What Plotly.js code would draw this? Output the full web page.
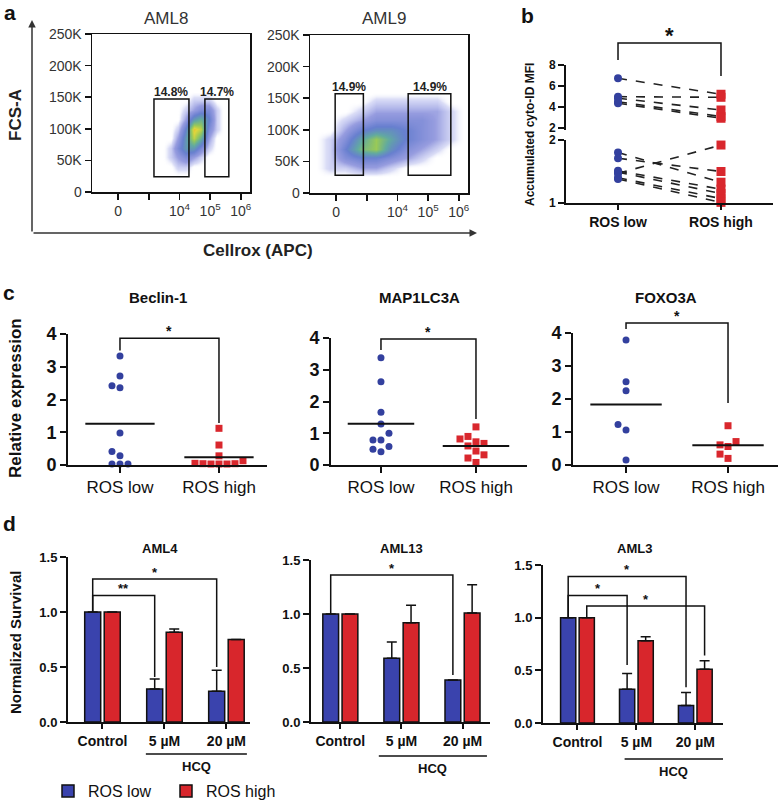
<!DOCTYPE html>
<html>
<head>
<meta charset="utf-8">
<script src="https://cdn.plot.ly/plotly-3.0.1.min.js"></script>
<style>
  html, body { margin: 0; padding: 0; background: #fff; }
  #plot { width: 783px; height: 801px; }
</style>
</head>
<body>
<div id="plot"></div>
<script>
// ---------- data ----------
// a: flow cytometry, relative event density (estimated) on a coarse grid
let flowTickText = ['0', '', '10<sup>4</sup>', '10<sup>5</sup>', '10<sup>6</sup>'];
let fscTickVals = [0, 50000, 100000, 150000, 200000, 250000];
let fscTickText = ['0', '50K', '100K', '150K', '200K', '250K'];
let densityY = [40000, 55000, 70000, 85000, 100000, 115000, 130000, 145000];

let aml8X = [1.7, 1.95, 2.2, 2.45, 2.7, 2.95, 3.2];
let aml8Density = [
  [0, 1, 1, 0, 0, 0, 0],
  [1, 2, 3, 2, 1, 0, 0],
  [1, 3, 5, 5, 3, 1, 0],
  [0, 2, 5, 8, 6, 2, 0],
  [0, 1, 4, 9, 8, 3, 1],
  [0, 0, 2, 5, 6, 4, 1],
  [0, 0, 1, 2, 3, 3, 1],
  [0, 0, 0, 1, 1, 1, 0]
];
let aml9X = [-0.2, 0.3, 0.8, 1.3, 1.8, 2.3, 2.8, 3.3, 3.7];
let aml9Density = [
  [1, 1, 2, 2, 1, 0, 0, 0, 0],
  [1, 3, 4, 4, 3, 2, 1, 0, 0],
  [1, 4, 7, 8, 5, 3, 2, 1, 0],
  [1, 3, 6, 8, 6, 4, 3, 2, 1],
  [0, 2, 4, 5, 5, 4, 3, 2, 1],
  [0, 1, 2, 3, 3, 3, 3, 2, 1],
  [0, 0, 1, 2, 2, 2, 2, 2, 1],
  [0, 0, 0, 1, 1, 1, 1, 1, 0]
];
let aml8Gates = ['14.8%', '14.7%'];
let aml9Gates = ['14.9%', '14.9%'];

// b: accumulated cyto-ID MFI, paired samples
let rosTicks = ['ROS low', 'ROS high'];
let cytoLowUpper = [6.73, 4.98, 4.83, 4.50, 4.35];
let cytoHighUpper = [5.21, 4.92, 3.71, 3.08, 2.92];
let cytoLowLower = [1.80, 1.71, 1.47, 1.51, 1.49, 1.40, 1.38];
let cytoHighLower = [1.33, 1.50, 1.92, 1.22, 1.15, 1.07, 1.01];

// c: relative expression
let beclinLow = [3.33, 2.72, 2.42, 2.36, 0.98, 0.41, 0.28, 0.03, 0.03, 0.03];
let beclinHigh = [1.12, 0.61, 0.28, 0.13, 0.04, 0.03, 0.03, 0.03, 0.04, 0.05];
let mapLow = [3.38, 2.62, 1.66, 1.29, 1.00, 0.79, 0.79, 0.58, 0.50, 0.42];
let mapHigh = [1.20, 0.90, 0.82, 0.73, 0.68, 0.60, 0.44, 0.32, 0.22, 0.08];
let foxoLow = [3.79, 2.52, 2.25, 1.23, 1.06, 0.15];
let foxoHigh = [1.19, 0.71, 0.61, 0.56, 0.33, 0.20];

// d: normalized survival
let groups = ['Control', '5 µM', '20 µM'];
let aml4Low = [1.0, 0.30, 0.28];
let aml4LowErr = [null, 0.09, 0.19];
let aml4High = [1.0, 0.815, 0.75];
let aml4HighErr = [null, 0.03, null];
let aml13Low = [1.0, 0.59, 0.39];
let aml13LowErr = [null, 0.15, null];
let aml13High = [1.0, 0.92, 1.01];
let aml13HighErr = [null, 0.16, 0.26];
let aml3Low = [1.0, 0.32, 0.165];
let aml3LowErr = [null, 0.15, 0.125];
let aml3High = [1.0, 0.78, 0.51];
let aml3HighErr = [null, 0.04, 0.08];

// ---------- helpers ----------
const W = 783, H = 801;
const F = 'Arial, "Liberation Sans", sans-serif';
const BLUE = '#33409e';
const RED = '#d9272d';
const BAR_BLUE = '#3a43ad';
const BAR_RED = '#d8262c';
const INK = '#111';

function dx(a, b) { return [a / W, b / W]; }
function dy(top, bottom) { return [1 - bottom / H, 1 - top / H]; }
function px(x) { return x / W; }
function py(y) { return 1 - y / H; }

function text(x, y, s, size, opts) {
  return Object.assign({
    x: px(x), y: py(y), xref: 'paper', yref: 'paper', text: s, showarrow: false,
    xanchor: 'center', yanchor: 'middle',
    font: { family: F, size: size, color: INK }
  }, opts || {});
}
function bold(size, color) { return { family: F, size: size, color: color || INK, weight: 'bold' }; }

// surround a density grid with a ring of zeros so the smoothed cloud fades out
function padGrid(xs, ys, z) {
  let sx = xs[1] - xs[0], sy = ys[1] - ys[0];
  let nx = [xs[0] - sx].concat(xs, [xs[xs.length - 1] + sx]);
  let ny = [ys[0] - sy].concat(ys, [ys[ys.length - 1] + sy]);
  let blank = nx.map(() => 0);
  let nz = [blank].concat(z.map(r => [0].concat(r, [0])), [blank]);
  return { x: nx, y: ny, z: nz };
}

// bracket: x in data units, y converted into fraction of the axis domain
function bracket(xa, ya, range, x0, x1, yTop, yL, yR) {
  let f = v => (v - range[0]) / (range[1] - range[0]);
  return {
    type: 'path', xref: xa, yref: ya + ' domain',
    path: `M${x0},${f(yL)} L${x0},${f(yTop)} L${x1},${f(yTop)} L${x1},${f(yR)}`,
    line: { color: INK, width: 1.5 }
  };
}
function star(xa, ya, range, x, yTop, s, size) {
  return {
    x: x, y: (yTop - range[0]) / (range[1] - range[0]), xref: xa, yref: ya + ' domain',
    text: s, showarrow: false, xanchor: 'center', yanchor: 'middle', yshift: 7,
    font: bold(size)
  };
}

// simple beeswarm: spread equal-ish values sideways
function swarm(vals, pxPerY, pxPerX, d) {
  let order = vals.map((v, i) => i).sort((a, b) => vals[a] - vals[b]);
  let placed = [];
  let off = vals.map(() => 0);
  let steps = [0, -1, 1, -2, 2, -3, 3, -4, 4];
  order.forEach(i => {
    for (let k of steps) {
      let xp = k * d;
      let hit = placed.some(p => (p.x - xp) ** 2 + ((p.v - vals[i]) * pxPerY) ** 2 < d * d * 0.95);
      if (!hit) { placed.push({ x: xp, v: vals[i] }); off[i] = xp / pxPerX; break; }
    }
  });
  return off;
}

let traces = [];
let shapes = [];
let annotations = [];
let layout = {
  width: W, height: H,
  margin: { l: 0, r: 0, t: 0, b: 0, autoexpand: false },
  paper_bgcolor: '#fff', plot_bgcolor: 'rgba(0,0,0,0)',
  font: { family: F, color: INK },
  showlegend: true,
  barmode: 'group', bargap: 0.37, bargroupgap: 0.18
};

// ---------- a: flow plots ----------
let flowScale = [
  [0, 'rgba(255,255,255,0)'],
  [0.06, 'rgba(110,120,220,0.25)'],
  [0.18, 'rgba(75,85,200,0.58)'],
  [0.35, 'rgba(65,95,195,0.8)'],
  [0.52, 'rgba(80,160,150,0.9)'],
  [0.66, 'rgb(150,200,90)'],
  [0.78, 'rgb(225,215,60)'],
  [0.9, 'rgb(240,150,40)'],
  [1, 'rgb(225,50,30)']
];
let flows = [
  { xa: 'x', ya: 'y', x: aml8X, z: aml8Density, zmax: 11, left: 92, right: 250, top: 34, bottom: 192,
    title: 'AML8', gates: aml8Gates, gateX: [[1.17, 2.31], [2.83, 3.61]], gateY: [24000, 147000] },
  { xa: 'x2', ya: 'y2', x: aml9X, z: aml9Density, zmax: 12, left: 310, right: 468, top: 35, bottom: 193,
    title: 'AML9', gates: aml9Gates, gateX: [[-0.03, 0.89], [2.35, 3.74]], gateY: [28000, 157000] }
];
flows.forEach((p, k) => {
  let n = k === 0 ? '' : '2';
  let g = padGrid(p.x, densityY, p.z);
  traces.push({
    type: 'heatmap', x: g.x, y: g.y, z: g.z, zmin: 0, zmax: p.zmax, zsmooth: 'best',
    colorscale: flowScale, showscale: false, hoverinfo: 'skip', showlegend: false,
    xaxis: p.xa, yaxis: p.ya
  });
  layout['xaxis' + n] = {
    domain: dx(p.left, p.right), anchor: p.ya, range: [-0.85, 4.3],
    showgrid: false, zeroline: false, showline: true, mirror: true, linecolor: INK, linewidth: 1.5,
    ticks: 'outside', ticklen: 6, tickwidth: 1.5, tickcolor: INK,
    tickvals: [0, 1, 2, 3, 4], ticktext: flowTickText, tickfont: { family: F, size: 14, color: '#333' }
  };
  layout['yaxis' + n] = {
    domain: dy(p.top, p.bottom), anchor: p.xa, range: [0, 250000],
    showgrid: false, zeroline: false, showline: true, mirror: true, linecolor: INK, linewidth: 1.5,
    ticks: 'outside', ticklen: 6, tickwidth: 1.5, tickcolor: INK,
    tickvals: fscTickVals, ticktext: fscTickText, tickfont: { family: F, size: 14, color: '#333' }
  };
  p.gateX.forEach((gx, i) => {
    shapes.push({ type: 'rect', xref: p.xa, yref: p.ya, x0: gx[0], x1: gx[1], y0: p.gateY[0], y1: p.gateY[1],
      line: { color: INK, width: 1.5 } });
    annotations.push({ x: (gx[0] + gx[1]) / 2, y: p.gateY[1], xref: p.xa, yref: p.ya,
      xanchor: 'center', yanchor: 'bottom', yshift: -2,
      text: p.gates[i], showarrow: false, font: bold(12, '#222') });
  });
  annotations.push(text((p.left + p.right) / 2 - 5, 18, p.title, 17, { font: { family: F, size: 17, color: '#333' } }));
});
annotations.push(text(10, 12, 'a', 21, { font: bold(21) }));
annotations.push(text(15, 115, 'FCS-A', 17, { textangle: -90, font: bold(17, '#222') }));
annotations.push(text(258, 250, 'Cellrox (APC)', 17, { font: bold(17, '#222') }));
// outer axis arrows
annotations.push({ x: px(32), y: py(20), xref: 'paper', yref: 'paper', ax: 0, ay: 213, text: '',
  showarrow: true, arrowhead: 2, arrowsize: 1, arrowwidth: 1.5, arrowcolor: '#333' });
annotations.push({ x: px(477), y: py(233), xref: 'paper', yref: 'paper', ax: -445, ay: 0, text: '',
  showarrow: true, arrowhead: 2, arrowsize: 1, arrowwidth: 1.5, arrowcolor: '#333' });

// ---------- b: paired cyto-ID ----------
function pairLines(lows, highs) {
  let x = [], y = [];
  lows.forEach((v, i) => { x.push(0, 1, null); y.push(v, highs[i], null); });
  return { x: x, y: y };
}
[[cytoLowUpper, cytoHighUpper, 'y4'], [cytoLowLower, cytoHighLower, 'y3']].forEach(s => {
  let l = pairLines(s[0], s[1]);
  traces.push({ type: 'scatter', mode: 'lines', x: l.x, y: l.y, xaxis: 'x3', yaxis: s[2],
    line: { color: '#222', width: 1.6, dash: 'dash' }, showlegend: false, hoverinfo: 'skip' });
  traces.push({ type: 'scatter', mode: 'markers', x: s[0].map(() => 0), y: s[0], xaxis: 'x3', yaxis: s[2],
    marker: { color: BLUE, size: 8, symbol: 'circle' }, cliponaxis: false, showlegend: false });
  traces.push({ type: 'scatter', mode: 'markers', x: s[1].map(() => 1), y: s[1], xaxis: 'x3', yaxis: s[2],
    marker: { color: RED, size: 9, symbol: 'square' }, cliponaxis: false, showlegend: false });
});
let bAxisY = {
  anchor: 'x3', showgrid: false, zeroline: false, showline: true, linecolor: INK, linewidth: 2,
  ticks: 'outside', ticklen: 6, tickwidth: 2, tickcolor: INK,
  tickfont: bold(12)
};
layout.xaxis3 = {
  domain: dx(566, 773), anchor: 'y3', range: [-0.505, 1.505],
  showgrid: false, zeroline: false, showline: true, linecolor: INK, linewidth: 2,
  ticks: 'outside', ticklen: 5, tickwidth: 2, tickcolor: INK,
  tickvals: [0, 1], ticktext: rosTicks, tickfont: bold(14)
};
layout.yaxis3 = Object.assign({ domain: dy(140, 203), range: [1, 2], tickvals: [1, 2] }, bAxisY);
layout.yaxis4 = Object.assign({ domain: dy(65, 130), range: [1.8, 8], tickvals: [2, 4, 6, 8] }, bAxisY);
shapes.push(bracket('x3', 'y4', [1.8, 8], 0, 1, 10.1, 8.48, 6.95));
annotations.push(star('x3', 'y4', [1.8, 8], 0.5, 10.1, '*', 22));
annotations.push(text(527, 15, 'b', 21, { font: bold(21) }));
annotations.push(text(530, 135, 'Accumulated cyto-ID MFI', 12, { textangle: -90, font: bold(12) }));

// ---------- c: dot plots ----------
let cPanels = [
  { title: 'Beclin-1', low: beclinLow, high: beclinHigh, left: 68, right: 267, top: 334, bottom: 465,
    xr: [-0.525, 1.485], br: [3.87, 3.5, 1.28] },
  { title: 'MAP1LC3A', low: mapLow, high: mapHigh, left: 331, right: 527, top: 338, bottom: 465,
    xr: [-0.526, 1.537], br: [3.97, 3.62, 1.45] },
  { title: 'FOXO3A', low: foxoLow, high: foxoHigh, left: 573, right: 778, top: 333, bottom: 465,
    xr: [-0.52, 1.49], br: [4.3, 4.12, 1.88] }
];
cPanels.forEach((p, k) => {
  let xa = 'x' + (4 + k), ya = 'y' + (5 + k);
  let pxY = (p.bottom - p.top) / 4;
  let pxX = (p.right - p.left) / (p.xr[1] - p.xr[0]);
  [[p.low, 0, BLUE, 'circle'], [p.high, 1, RED, 'square']].forEach(s => {
    let off = swarm(s[0], pxY, pxX, 8);
    traces.push({ type: 'scatter', mode: 'markers', x: s[0].map((v, i) => s[1] + off[i]), y: s[0],
      xaxis: xa, yaxis: ya, marker: { color: s[2], size: 7, symbol: s[3] }, cliponaxis: false, showlegend: false });
    let mean = s[0].reduce((a, b) => a + b, 0) / s[0].length;
    traces.push({ type: 'scatter', mode: 'lines', x: [s[1] - 0.35, s[1] + 0.35], y: [mean, mean],
      xaxis: xa, yaxis: ya, line: { color: INK, width: 2 }, showlegend: false, hoverinfo: 'skip' });
  });
  layout['xaxis' + (4 + k)] = {
    domain: dx(p.left, p.right), anchor: ya, range: p.xr,
    showgrid: false, zeroline: false, showline: true, linecolor: INK, linewidth: 2,
    ticks: 'outside', ticklen: 6, tickwidth: 2, tickcolor: INK,
    tickvals: [0, 1], ticktext: rosTicks, tickfont: { family: F, size: 17, color: INK }
  };
  layout['yaxis' + (5 + k)] = {
    domain: dy(p.top, p.bottom), anchor: xa, range: [0, 4], tickvals: [0, 1, 2, 3, 4],
    showgrid: false, zeroline: false, showline: true, linecolor: INK, linewidth: 2,
    ticks: 'outside', ticklen: 6, tickwidth: 2, tickcolor: INK,
    tickfont: bold(18)
  };
  shapes.push(bracket(xa, ya, [0, 4], 0, 1, p.br[0], p.br[1], p.br[2]));
  annotations.push(star(xa, ya, [0, 4], 0.5, p.br[0], '*', 14));
  annotations.push(text((p.left + p.right) / 2 - 10, 297, p.title, 15, { font: bold(15) }));
});
annotations.push(text(9, 292, 'c', 21, { font: bold(21) }));
annotations.push(text(15, 398, 'Relative expression', 17, { textangle: -90, font: bold(17) }));

// ---------- d: bar charts ----------
let dPanels = [
  { title: 'AML4', low: aml4Low, lowErr: aml4LowErr, high: aml4High, highErr: aml4HighErr,
    left: 68, right: 250, top: 557, bottom: 722, xr: [-0.556, 2.38], hcq: [0.7, 2.33], hcqY: 754,
    br: [[0, 'l', 2, 'l', 1.30, 1.0, 0.50, '*'], [0, 'l', 1, 'l', 1.15, 1.0, 0.41, '**']] },
  { title: 'AML13', low: aml13Low, lowErr: aml13LowErr, high: aml13High, highErr: aml13HighErr,
    left: 311, right: 490, top: 560, bottom: 722, xr: [-0.48, 2.45], hcq: [0.63, 2.4], hcqY: 756,
    br: [[0, 'l', 2, 'l', 1.36, 1.0, 0.435, '*']] },
  { title: 'AML3', low: aml3Low, lowErr: aml3LowErr, high: aml3High, highErr: aml3HighErr,
    left: 543, right: 723, top: 565, bottom: 723, xr: [-0.585, 2.47], hcq: [0.8, 2.47], hcqY: 759,
    br: [[0, 'l', 2, 'l', 1.39, 1.0, 0.34, '*'], [0, 'l', 1, 'l', 1.21, 1.0, 0.55, '*'], [0, 'h', 2, 'h', 1.11, 1.0, 0.64, '*']] }
];
let half = (1 - layout.bargap) / 4;
let nan = a => a.map(v => (v == null ? NaN : v));
dPanels.forEach((p, k) => {
  let xa = 'x' + (7 + k), ya = 'y' + (8 + k);
  [[p.low, p.lowErr, BAR_BLUE, 'ROS low'], [p.high, p.highErr, BAR_RED, 'ROS high']].forEach(s => {
    traces.push({
      type: 'bar', x: groups, y: s[0], name: s[3], xaxis: xa, yaxis: ya, showlegend: k === 0,
      marker: { color: s[2], line: { color: INK, width: 1.5 } },
      error_y: { type: 'data', symmetric: false, array: nan(s[1]), arrayminus: s[1].map(() => 0),
        color: INK, thickness: 1.5, width: 5 }
    });
  });
  layout['xaxis' + (7 + k)] = {
    domain: dx(p.left, p.right), anchor: ya, type: 'category', range: p.xr,
    showgrid: false, zeroline: false, showline: true, linecolor: INK, linewidth: 2,
    ticks: 'outside', ticklen: 5, tickwidth: 2, tickcolor: INK,
    tickfont: bold(14)
  };
  layout['yaxis' + (8 + k)] = {
    domain: dy(p.top, p.bottom), anchor: xa, range: [0, 1.5], tickvals: [0, 0.5, 1, 1.5], tickformat: '.1f',
    showgrid: false, zeroline: false, showline: true, linecolor: INK, linewidth: 2,
    ticks: 'outside', ticklen: 6, tickwidth: 2, tickcolor: INK,
    tickfont: bold(13)
  };
  p.br.forEach(b => {
    let x0 = b[0] + (b[1] === 'l' ? -half : half);
    let x1 = b[2] + (b[3] === 'l' ? -half : half);
    shapes.push(bracket(xa, ya, [0, 1.5], x0, x1, b[4], b[5], b[6]));
    annotations.push(star(xa, ya, [0, 1.5], (x0 + x1) / 2, b[4], b[7], 13));
  });
  shapes.push({ type: 'line', xref: xa, yref: 'paper', x0: p.hcq[0], x1: p.hcq[1], y0: py(p.hcqY), y1: py(p.hcqY),
    line: { color: INK, width: 1.5 } });
  annotations.push({ x: (p.hcq[0] + p.hcq[1]) / 2, y: py(p.hcqY + 12), xref: xa, yref: 'paper', text: 'HCQ',
    xanchor: 'center', yanchor: 'middle', showarrow: false, font: bold(13) });
  annotations.push(text((p.left + p.right) / 2 + 1, 548, p.title, 13, { font: bold(13) }));
});
annotations.push(text(9, 523, 'd', 21, { font: bold(21) }));
annotations.push(text(15, 643, 'Normalized Survival', 15, { textangle: -90, font: bold(15) }));

layout.legend = {
  orientation: 'h', x: px(48), y: py(791), xanchor: 'left', yanchor: 'middle',
  entrywidth: 73, entrywidthmode: 'pixels',
  font: { family: F, size: 16, color: INK }, bgcolor: 'rgba(0,0,0,0)', traceorder: 'normal'
};
layout.shapes = shapes;
layout.annotations = annotations;

Plotly.newPlot('plot', traces, layout, { displayModeBar: false, staticPlot: true });
</script>
</body>
</html>
